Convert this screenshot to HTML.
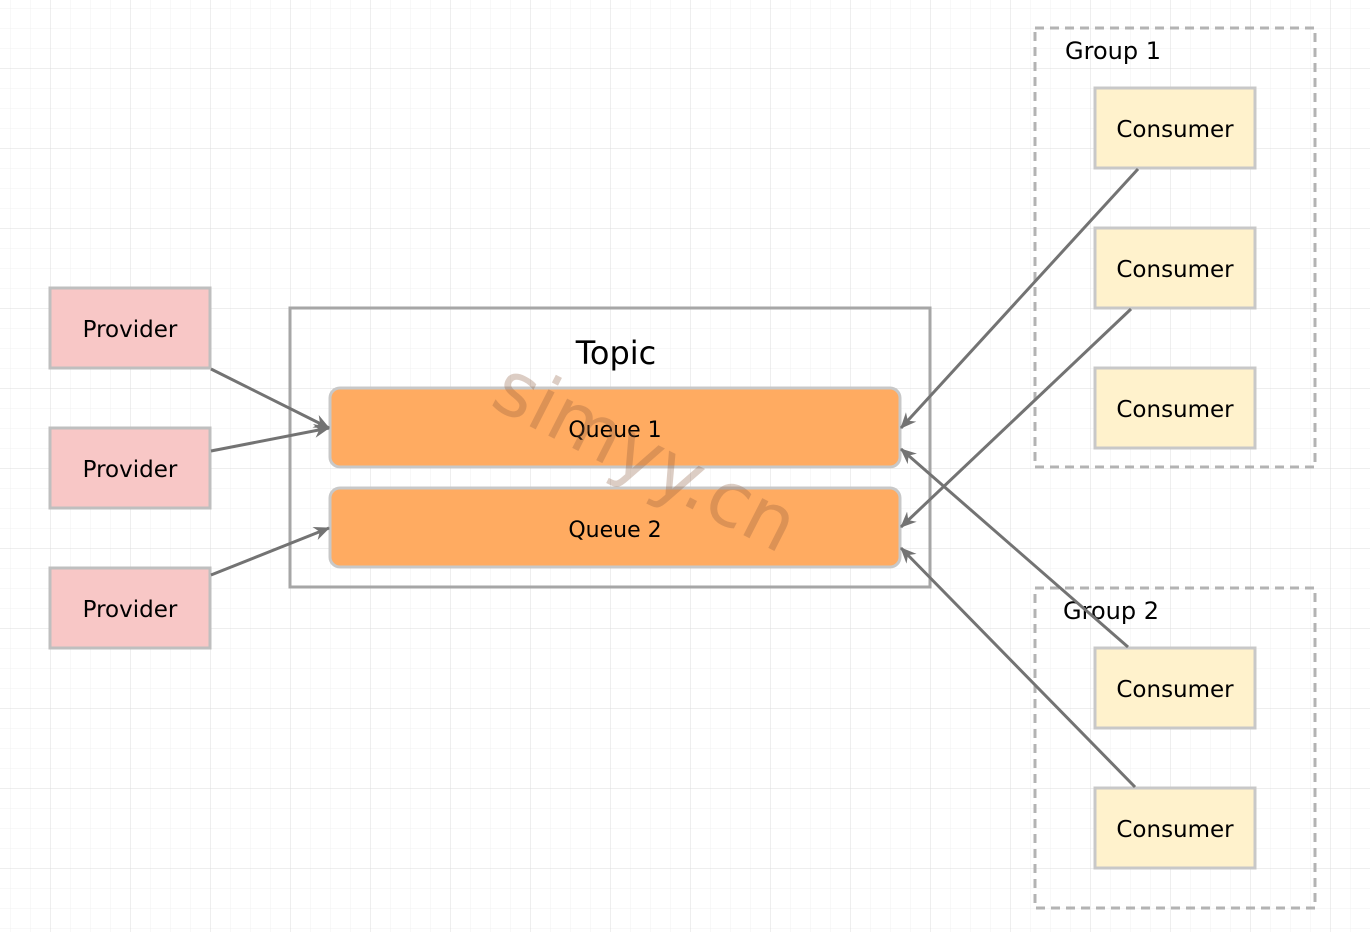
<!DOCTYPE html>
<html><head><meta charset="utf-8"><style>
html,body{margin:0;padding:0;background:#fff;}
svg{display:block;}
text{font-family:"DejaVu Sans","Liberation Sans",sans-serif;fill:#000;}
</style></head><body>
<svg width="1370" height="932" viewBox="0 0 1370 932" xmlns="http://www.w3.org/2000/svg">
<defs>
<pattern id="minor" x="10" y="8" width="20" height="20" patternUnits="userSpaceOnUse">
<path d="M0 0H20M0 0V20" stroke="#f0f0f0" stroke-width="1" fill="none"/>
</pattern>
<pattern id="major" x="50" y="68" width="80" height="80" patternUnits="userSpaceOnUse">
<path d="M0 0H80M0 0V80" stroke="#dcdcdc" stroke-width="1" fill="none"/>
</pattern>
<marker id="ar" markerWidth="18" markerHeight="16" refX="15" refY="8" orient="auto" markerUnits="userSpaceOnUse">
<path d="M0 1L16 8L0 15L5 8Z" fill="#737373"/>
</marker>
</defs>
<rect width="1370" height="932" fill="url(#minor)"/>
<rect width="1370" height="932" fill="url(#major)"/>

<rect x="1035" y="28" width="280" height="439" fill="none" stroke="#b3b3b3" stroke-width="3" stroke-dasharray="9 6"/>
<rect x="1035" y="588" width="280" height="320" fill="none" stroke="#b3b3b3" stroke-width="3" stroke-dasharray="9 6"/>
<text x="1065" y="59" font-size="24">Group 1</text>
<text x="1063" y="619" font-size="24">Group 2</text>

<rect x="290" y="308" width="640" height="279" fill="none" stroke="#a6a6a6" stroke-width="3"/>
<text x="616" y="364" font-size="32" text-anchor="middle">Topic</text>

<rect x="330" y="388" width="570" height="79" rx="10" fill="#ffab61" stroke="#c8c8c8" stroke-width="3"/>
<rect x="330" y="488" width="570" height="79" rx="10" fill="#ffab61" stroke="#c8c8c8" stroke-width="3"/>
<text x="615" y="437" font-size="22" text-anchor="middle">Queue 1</text>
<text x="615" y="537" font-size="22" text-anchor="middle">Queue 2</text>

<g fill="#f8c7c6" stroke="#bfbfbf" stroke-width="3">
<rect x="50" y="288" width="160" height="80"/>
<rect x="50" y="428" width="160" height="80"/>
<rect x="50" y="568" width="160" height="80"/>
</g>
<g font-size="23" text-anchor="middle">
<text x="130" y="337">Provider</text>
<text x="130" y="477">Provider</text>
<text x="130" y="617">Provider</text>
</g>

<g fill="#fff2cc" stroke="#c8c8c8" stroke-width="3">
<rect x="1095" y="88" width="160" height="80"/>
<rect x="1095" y="228" width="160" height="80"/>
<rect x="1095" y="368" width="160" height="80"/>
<rect x="1095" y="648" width="160" height="80"/>
<rect x="1095" y="788" width="160" height="80"/>
</g>
<g font-size="23" text-anchor="middle">
<text x="1175" y="137">Consumer</text>
<text x="1175" y="277">Consumer</text>
<text x="1175" y="417">Consumer</text>
<text x="1175" y="697">Consumer</text>
<text x="1175" y="837">Consumer</text>
</g>

<g stroke="#737373" stroke-width="3" fill="none" marker-end="url(#ar)">
<line x1="211" y1="369" x2="329" y2="428"/>
<line x1="211" y1="451" x2="329" y2="428"/>
<line x1="211" y1="575" x2="329" y2="528"/>
<line x1="1138" y1="169" x2="901" y2="428"/>
<line x1="1131" y1="309" x2="901" y2="527"/>
<line x1="1128" y1="647" x2="901" y2="449"/>
<line x1="1135" y1="787" x2="901" y2="548"/>
</g>

<text x="0" y="0" font-size="76" style="fill:#8b5a3c;fill-opacity:0.3" transform="translate(488,405) rotate(27)">simyy.cn</text>
</svg>
</body></html>
